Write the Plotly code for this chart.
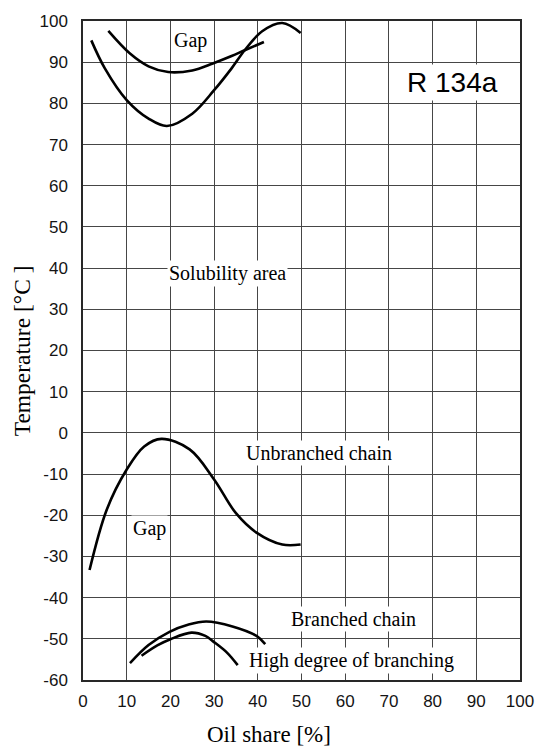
import plotly.graph_objects as go

# Data
upper_gap_a_x = [1.9, 5, 10, 15, 19.2, 25, 30, 34, 37, 41, 45.6, 49.8]
upper_gap_a_y = [95.3, 88.5, 80.8, 76.3, 74.5, 77.5, 83.2, 88.5, 92.9, 97.5, 99.5, 97.1]

upper_gap_b_x = [5.8, 10.75, 15, 19.5, 25, 29.7, 34, 37, 41.4]
upper_gap_b_y = [97.6, 92.1, 89, 87.6, 88, 89.7, 91.5, 92.9, 94.9]

unbranched_x = [1.5, 5.45, 10, 14, 17.95, 24.4, 30, 35, 39.7, 45.6, 49.8]
unbranched_y = [-33.3, -18.6, -8.9, -3.3, -1.45, -4.0, -11.3, -19.5, -24.2, -27.1, -27.1]

branched_x = [10.75, 15, 19.8, 24, 28.2, 34.2, 39.7, 41.7]
branched_y = [-55.9, -51.5, -48.3, -46.6, -45.8, -47.0, -49.3, -51.3]

high_x = [13.4, 17, 20, 24.8, 28, 30, 33, 35.4]
high_y = [-54.1, -51.6, -50.1, -48.5, -49.3, -50.8, -53.4, -56.4]

x_ticks = list(range(0, 101, 10))
y_ticks = list(range(-60, 101, 10))

curves = [
    (upper_gap_a_x, upper_gap_a_y),
    (upper_gap_b_x, upper_gap_b_y),
    (unbranched_x, unbranched_y),
    (branched_x, branched_y),
    (high_x, high_y),
]

fig = go.Figure()
for cx, cy in curves:
    fig.add_trace(go.Scatter(x=cx, y=cy, mode="lines",
                             line=dict(color="black", width=2.6, shape="spline", smoothing=1.0),
                             showlegend=False, hoverinfo="skip"))

serif = "Liberation Serif, Times New Roman, serif"
sans = "Liberation Sans, Arial, sans-serif"

labels = [
    ("Gap", 24.7, 95.3),
    ("Solubility area", 33.0, 38.6),
    ("Unbranched chain", 54.0, -4.8),
    ("Gap", 15.3, -23.1),
    ("Branched chain", 61.9, -45.1),
    ("High degree of branching", 61.4, -55.2),
]
for t, ax_, ay_ in labels:
    fig.add_annotation(x=ax_, y=ay_, text=t, showarrow=False,
                       font=dict(family=serif, size=20, color="black"),
                       bgcolor="white", borderpad=1)

fig.add_annotation(x=84.6, y=85.1, text="R 134a", showarrow=False,
                   font=dict(family=sans, size=28, color="black"),
                   bgcolor="white", borderpad=2)

# axis titles
fig.add_annotation(x=42.5, xref="x", y=-0.0834, yref="paper", text="Oil share [%]",
                   showarrow=False, yanchor="middle",
                   font=dict(family=serif, size=23, color="black"))
fig.add_annotation(x=-0.14, xref="paper", y=0.5, yref="paper", text="Temperature [°C ]",
                   showarrow=False, textangle=-90, xanchor="center", yanchor="middle",
                   font=dict(family=serif, size=23.5, color="black"))

fig.update_layout(
    width=535, height=746,
    margin=dict(l=83, r=15, t=21, b=66),
    paper_bgcolor="white", plot_bgcolor="white",
    xaxis=dict(range=[0, 100], tickvals=x_ticks, ticktext=[str(v) for v in x_ticks],
               showgrid=True, gridcolor="rgb(70,70,70)", gridwidth=1.3,
               showline=True, linecolor="rgb(40,40,40)", linewidth=1.5, mirror=True,
               zeroline=False, ticks="", automargin=False, ticklabelstandoff=5,
               ticklabeloverflow="allow",
               tickfont=dict(family=sans, size=17, color="rgb(20,20,20)")),
    yaxis=dict(range=[-60, 100], tickvals=y_ticks, ticktext=[str(v) for v in y_ticks],
               showgrid=True, gridcolor="rgb(70,70,70)", gridwidth=1.3,
               showline=True, linecolor="rgb(40,40,40)", linewidth=1.5, mirror=True,
               zeroline=False, ticks="", automargin=False, ticklabelstandoff=10,
               ticklabeloverflow="allow",
               tickfont=dict(family=sans, size=17, color="rgb(20,20,20)")),
)

fig.write_html("out.html")
